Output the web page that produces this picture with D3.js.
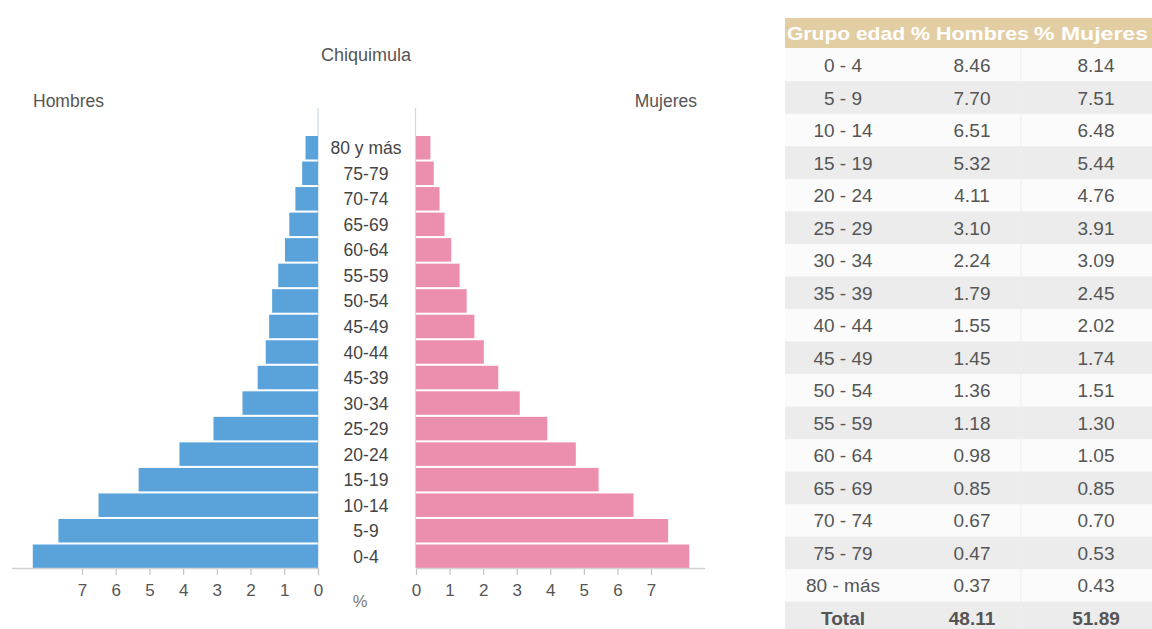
<!DOCTYPE html>
<html><head><meta charset="utf-8">
<script src="https://cdn.jsdelivr.net/npm/d3@7"></script>
<style>
body{margin:0;background:#fff;}
svg{display:block;font-family:"Liberation Sans",Arial,sans-serif;}
</style></head>
<body><svg id="c" width="1152" height="629"></svg>
<script>
// ---- data ----
const chartTitle = "Chiquimula";
const chartLabels = ["0-4","5-9","10-14","15-19","20-24","25-29","30-34","45-39","40-44","45-49","50-54","55-59","60-64","65-69","70-74","75-79","80 y más"];
const tableGroups = ["0 - 4","5 - 9","10 - 14","15 - 19","20 - 24","25 - 29","30 - 34","35 - 39","40 - 44","45 - 49","50 - 54","55 - 59","60 - 64","65 - 69","70 - 74","75 - 79","80 - más"];
const hombres = [8.46,7.70,6.51,5.32,4.11,3.10,2.24,1.79,1.55,1.45,1.36,1.18,0.98,0.85,0.67,0.47,0.37];
const mujeres = [8.14,7.51,6.48,5.44,4.76,3.91,3.09,2.45,2.02,1.74,1.51,1.30,1.05,0.85,0.70,0.53,0.43];
const totals = ["Total", 48.11, 51.89];
const tickValues = [0,1,2,3,4,5,6,7];
const tableHeader = ["Grupo edad","% Hombres","% Mujeres"];

const svg = d3.select("#c");
const idx = d3.range(chartLabels.length);

// scales
const y = d3.scaleBand().domain(idx).range([568,136]).paddingInner(0.08).paddingOuter(0.0);
const xL = d3.scaleLinear().domain([0,7]).range([318,82]);
const xR = d3.scaleLinear().domain([0,7]).range([416,651]);

// titles
svg.append("text").attr("x",366).attr("y",61).attr("text-anchor","middle")
  .attr("font-size",18).attr("fill","#555").text(chartTitle);
svg.append("text").attr("x",33).attr("y",107).attr("font-size",17.5).attr("fill","#555").text("Hombres");
svg.append("text").attr("x",697).attr("y",107).attr("text-anchor","end").attr("font-size",17.5).attr("fill","#555").text("Mujeres");

// zero lines
svg.append("line").attr("x1",xL(0)).attr("x2",xL(0)).attr("y1",108).attr("y2",568).attr("stroke","#c8d8e6").attr("stroke-width",1.2);
svg.append("line").attr("x1",xR(0)-0.5).attr("x2",xR(0)-0.5).attr("y1",108).attr("y2",568).attr("stroke","#d6d6d6").attr("stroke-width",1.2);

// bars
svg.append("g").selectAll("rect").data(idx).join("rect")
  .attr("x",i=>xL(hombres[i])).attr("width",i=>xL(0)-xL(hombres[i]))
  .attr("y",i=>y(i)).attr("height",y.bandwidth()).attr("fill","#5aa2da");
svg.append("g").selectAll("rect").data(idx).join("rect")
  .attr("x",xR(0)).attr("width",i=>xR(mujeres[i])-xR(0))
  .attr("y",i=>y(i)).attr("height",y.bandwidth()).attr("fill","#ec8fae");

// category labels
svg.append("g").selectAll("text").data(idx).join("text")
  .attr("x",366).attr("y",i=>y(i)+y.bandwidth()/2+6.5).attr("text-anchor","middle")
  .attr("font-size",17.5).attr("fill","#444").text(i=>chartLabels[i]);

// axes
function styleAxis(g){
  g.select(".domain").remove();
  g.selectAll(".tick line").attr("stroke","#c4c4c4").attr("stroke-width",1.2);
  g.selectAll(".tick text").attr("fill","#555").attr("font-size",17).attr("font-family","Liberation Sans, Arial, sans-serif").attr("dy","1.05em");
}
svg.append("g").attr("transform","translate(0,568)").call(d3.axisBottom(xL).tickValues(tickValues).tickSize(7).tickFormat(d3.format("d"))).call(styleAxis);
svg.append("g").attr("transform","translate(0,568)").call(d3.axisBottom(xR).tickValues(tickValues).tickSize(7).tickFormat(d3.format("d"))).call(styleAxis);
svg.append("line").attr("x1",12).attr("x2",318).attr("y1",568.5).attr("y2",568.5).attr("stroke","#d2d2d2").attr("stroke-width",1.5);
svg.append("line").attr("x1",416).attr("x2",705).attr("y1",568.5).attr("y2",568.5).attr("stroke","#d2d2d2").attr("stroke-width",1.5);
svg.append("text").attr("x",360).attr("y",607).attr("text-anchor","middle").attr("font-size",16.5).attr("fill","#777").text("%");

// ---- table ----
const rowY = d3.scaleLinear().domain([0,17]).range([65,618]);
const colX = [843, 972, 1096];
const tbl = svg.append("g");
svg.insert("rect","g").attr("x",785).attr("y",48).attr("width",367).attr("height",581).attr("fill","#fbfbfb");
tbl.append("rect").attr("x",785).attr("y",18).attr("width",367).attr("height",30).attr("fill","#e3cea4");
const hdrPos = [[787,118],[911,118],[1034,114]];
tableHeader.forEach((h,j)=>{
  tbl.append("text").attr("x",hdrPos[j][0]).attr("y",40).attr("font-size",19).attr("font-weight","bold")
    .attr("fill","#fff").attr("textLength",hdrPos[j][1]).attr("lengthAdjust","spacingAndGlyphs").text(h);
});

const rows = d3.range(tableGroups.length + 1);
tbl.selectAll("rect.stripe").data(rows.filter(i=>i%2===1)).join("rect").attr("class","stripe")
  .attr("x",785).attr("width",367).attr("y",i=>rowY(i)-16.3).attr("height",32.6).attr("fill","#ececec");
tbl.append("line").attr("x1",1021).attr("x2",1021).attr("y1",48).attr("y2",629).attr("stroke","#eeeeee");

const fmt = d3.format(".2f");
rows.forEach(i=>{
  const isTot = i===tableGroups.length;
  const vals = isTot ? [totals[0], fmt(totals[1]), fmt(totals[2])] : [tableGroups[i], fmt(hombres[i]), fmt(mujeres[i])];
  vals.forEach((v,j)=>{
    tbl.append("text").attr("x",colX[j]).attr("y",rowY(i)+7).attr("text-anchor","middle")
      .attr("font-size",19).attr("fill","#555").attr("font-weight",isTot?"bold":"normal").text(v);
  });
});
</script></body></html>
